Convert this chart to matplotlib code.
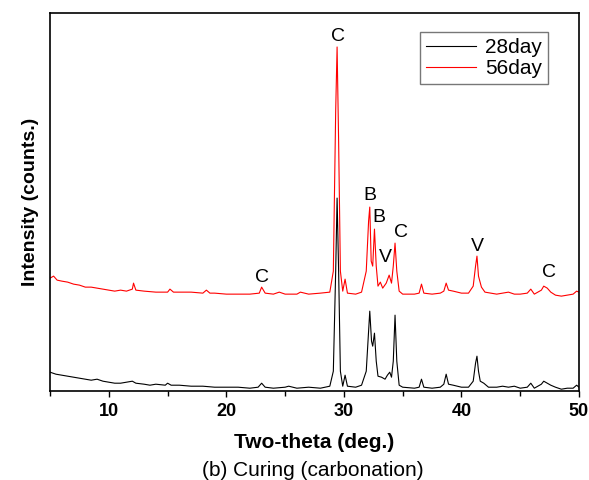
import matplotlib
matplotlib.use("Agg")
import matplotlib.pyplot as plt
from matplotlib.ticker import MultipleLocator

plt.rcParams['font.family'] = ['Liberation Sans', 'DejaVu Sans']

# 28day pattern (2-theta, intensity in arbitrary counts)
tt_28 = [5.0, 5.5, 6.0, 6.5, 7.0, 7.5, 8.0, 8.5, 9.0, 9.5, 10.0, 10.5, 11.0, 11.5,
         12.0, 12.3, 13.0, 13.5, 14.0, 14.8, 15.0, 15.3, 16.0, 17.0, 18.0, 19.0,
         20.0, 21.0, 22.0, 22.7, 23.0, 23.3, 24.0, 25.0, 25.3, 26.0, 27.0, 28.0,
         28.8, 29.1, 29.3, 29.42, 29.55, 29.7, 29.9, 30.1, 30.3, 31.0, 31.5, 31.9,
         32.1, 32.2, 32.35, 32.45, 32.6, 32.75, 32.9, 33.2, 33.5, 33.7, 33.9, 34.05,
         34.2, 34.35, 34.5, 34.7, 35.0, 36.0, 36.4, 36.6, 36.8, 37.5, 38.2, 38.5,
         38.7, 38.9, 39.3, 40.0, 40.6, 41.0, 41.2, 41.32, 41.45, 41.6, 41.9, 42.3,
         43.0, 43.5, 44.0, 44.5, 45.0, 45.6, 45.9, 46.2, 46.8, 47.0, 47.3, 47.6,
         48.0, 48.5, 49.0, 49.5, 49.8, 50.0]
int_28 = [19, 17, 16, 15, 14, 13, 12, 11, 12, 10, 9, 8, 8, 9,
          10, 8, 7, 6, 7, 6, 8, 6, 6, 5, 5, 4,
          4, 4, 3, 4, 8, 4, 3, 4, 5, 3, 4, 3,
          5, 20, 120, 193, 120, 20, 5, 16, 5, 4, 6, 20,
          60, 80, 50, 45, 58, 30, 15, 14, 12, 16, 19, 14,
          30, 76, 30, 6, 4, 3, 4, 12, 4, 3, 4, 7,
          17, 7, 6, 4, 4, 10, 28, 35, 20, 10, 8, 4,
          4, 5, 4, 5, 3, 4, 8, 3, 7, 10, 8, 6,
          4, 2, 3, 3, 6, 4]

# 56day pattern
tt_56 = [5.0, 5.3, 5.6, 6.0, 6.5, 7.0, 7.5, 8.0, 8.5, 9.0, 9.5, 10.0, 10.5, 11.0,
         11.5, 12.0, 12.1, 12.3, 13.0, 14.0, 15.0, 15.2, 15.5, 16.0, 17.0, 18.0,
         18.3, 18.6, 19.0, 20.0, 21.0, 22.0, 22.8, 23.0, 23.3, 24.0, 24.5, 25.0,
         26.0, 26.3, 27.0, 28.0, 28.8, 29.1, 29.3, 29.42, 29.55, 29.7, 29.9, 30.1,
         30.3, 31.0, 31.5, 31.9, 32.1, 32.2, 32.32, 32.45, 32.6, 32.75, 32.9, 33.1,
         33.3, 33.6, 33.85, 34.05, 34.2, 34.35, 34.5, 34.7, 35.0, 36.0, 36.4, 36.6,
         36.8, 37.5, 38.2, 38.5, 38.7, 38.9, 39.3, 40.0, 40.6, 41.0, 41.2, 41.32,
         41.45, 41.7, 42.0, 43.0, 43.5, 44.0, 44.5, 45.0, 45.6, 45.9, 46.2, 46.8,
         47.0, 47.3, 47.6, 48.0, 48.5, 49.0, 49.5, 49.8, 50.0]
int_56 = [113, 115, 111, 110, 109, 107, 106, 104, 104, 103, 102, 101, 100, 101,
          100, 102, 108, 101, 100, 99, 99, 102, 99, 99, 99, 98,
          101, 98, 98, 97, 97, 97, 98, 104, 98, 97, 99, 97,
          97, 99, 97, 98, 99, 120, 280, 344, 250, 120, 100, 112,
          98, 97, 99, 120, 170, 184, 130, 125, 162, 125, 105, 109,
          103, 108, 116, 108, 125, 148, 120, 100, 97, 97, 98, 107,
          98, 97, 98, 100, 108, 101, 100, 98, 98, 105, 125, 135,
          115, 104, 99, 97, 98, 99, 97, 97, 98, 102, 97, 101,
          105, 103, 99, 96, 95, 96, 97, 100, 99]

# phase labels: (text, 2-theta, height)
peak_labels = ["C", "C", "B", "B", "V", "C", "V", "C"]
peak_tt = [23.0, 29.5, 32.25, 33.0, 33.57, 34.84, 41.35, 47.45]
peak_h = [114, 354, 196, 174, 134, 159, 145, 119]

fig = plt.figure(figsize=(5.89, 4.80), dpi=100)
ax = fig.add_axes([0.085, 0.185, 0.898, 0.788])

ax.plot(tt_28, int_28, color="black", lw=0.8, label="28day")
ax.plot(tt_56, int_56, color="#ff0000", lw=0.8, label="56day")

for lab, x, y in zip(peak_labels, peak_tt, peak_h):
    ax.text(x, y, lab, ha="center", va="center", fontsize=14)

ax.set_xlim(5, 50)
ax.set_ylim(0, 378)
ax.xaxis.set_major_locator(MultipleLocator(10))
ax.xaxis.set_minor_locator(MultipleLocator(5))
ax.set_yticks([])
ax.tick_params(axis="x", which="major", direction="out", length=4.5, width=1,
               labelsize=13, pad=4)
ax.tick_params(axis="x", which="minor", direction="out", length=3.5, width=1)
for lbl in ax.get_xticklabels():
    lbl.set_fontweight("bold")
for sp in ax.spines.values():
    sp.set_linewidth(1.2)

ax.set_xlabel("Two-theta (deg.)", fontsize=15, fontweight="bold", labelpad=9)
ax.set_ylabel("Intensity (counts.)", fontsize=14, fontweight="bold", labelpad=8)

leg = ax.legend(loc="upper right", bbox_to_anchor=(0.9415, 0.95), fontsize=15,
                frameon=True, fancybox=False, handlelength=2.4, handletextpad=0.4,
                borderpad=0.3, labelspacing=0.1, borderaxespad=0)
leg.get_frame().set_edgecolor("#555555")
leg.get_frame().set_linewidth(1.0)

fig.text(0.531, 0.02, "(b) Curing (carbonation)", ha="center", va="center",
         fontsize=15)

fig.savefig("out.png", dpi=100)
